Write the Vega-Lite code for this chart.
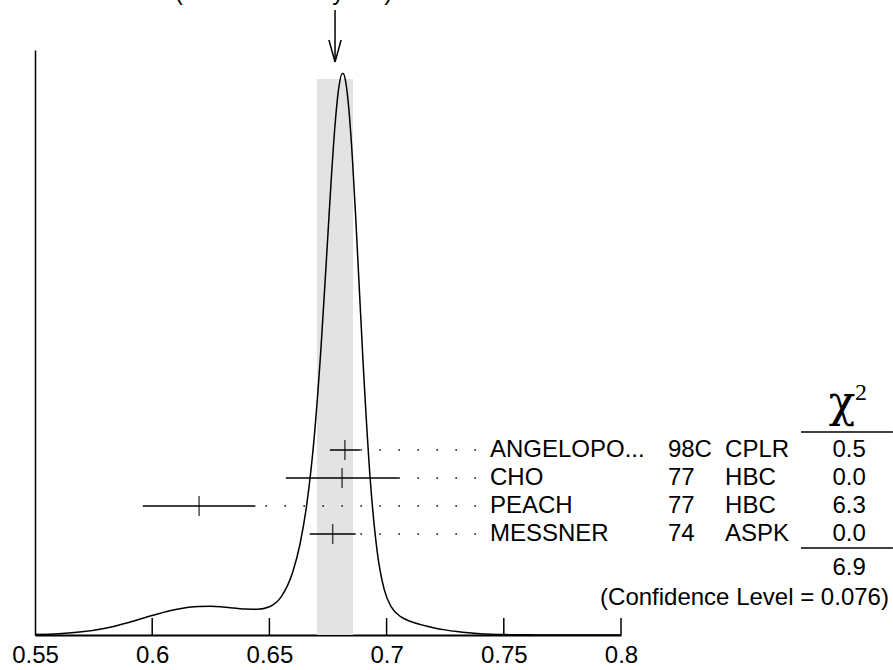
{
  "$schema": "https://vega.github.io/schema/vega-lite/v6.json",
  "width": 586,
  "height": 585,
  "autosize": {"type": "none"},
  "padding": {"left": 35, "top": 50, "right": 272, "bottom": 35},
  "background": "white",
  "config": {"view": {"stroke": null}, "font": "Liberation Sans", "text": {"color": "black"}},
  "datasets": {
    "curve": [
      {"x": 0.55, "d": 0.025}, {"x": 0.56, "d": 0.076}, {"x": 0.57, "d": 0.198}, {"x": 0.58, "d": 0.433},
      {"x": 0.59, "d": 0.796}, {"x": 0.60, "d": 1.233}, {"x": 0.61, "d": 1.614}, {"x": 0.62, "d": 1.805},
      {"x": 0.625, "d": 1.813}, {"x": 0.63, "d": 1.774}, {"x": 0.635, "d": 1.706}, {"x": 0.64, "d": 1.639},
      {"x": 0.645, "d": 1.623}, {"x": 0.65, "d": 1.783}, {"x": 0.655, "d": 2.407}, {"x": 0.66, "d": 3.996},
      {"x": 0.663, "d": 5.708}, {"x": 0.666, "d": 8.323}, {"x": 0.669, "d": 12.312}, {"x": 0.672, "d": 18.127},
      {"x": 0.675, "d": 25.43}, {"x": 0.6765, "d": 29.09}, {"x": 0.678, "d": 32.257}, {"x": 0.6795, "d": 34.51},
      {"x": 0.681, "d": 35.503}, {"x": 0.6815, "d": 35.51}, {"x": 0.6825, "d": 35.03}, {"x": 0.684, "d": 33.088},
      {"x": 0.6855, "d": 29.92}, {"x": 0.687, "d": 25.898}, {"x": 0.69, "d": 17.14}, {"x": 0.693, "d": 9.869},
      {"x": 0.696, "d": 5.262}, {"x": 0.699, "d": 2.873}, {"x": 0.702, "d": 1.775}, {"x": 0.706, "d": 1.162},
      {"x": 0.71, "d": 0.874}, {"x": 0.715, "d": 0.642}, {"x": 0.72, "d": 0.464}, {"x": 0.725, "d": 0.324},
      {"x": 0.73, "d": 0.216}, {"x": 0.735, "d": 0.138}, {"x": 0.74, "d": 0.085}, {"x": 0.75, "d": 0.028},
      {"x": 0.76, "d": 0.008}, {"x": 0.77, "d": 0.002}, {"x": 0.78, "d": 0.0004}, {"x": 0.8, "d": 0}
    ],
    "meas": [
      {"name": "ANGELOPO...", "year": "98C", "tech": "CPLR", "chi": "0.5", "value": 0.6822, "lo": 0.6758, "hi": 0.6886, "dotEnd": 0.7381, "pos": 1},
      {"name": "CHO", "year": "77", "tech": "HBC", "chi": "0.0", "value": 0.681, "lo": 0.657, "hi": 0.705, "dotEnd": 0.7381, "pos": 2},
      {"name": "PEACH", "year": "77", "tech": "HBC", "chi": "6.3", "value": 0.62, "lo": 0.596, "hi": 0.644, "dotEnd": 0.7381, "pos": 3},
      {"name": "MESSNER", "year": "74", "tech": "ASPK", "chi": "0.0", "value": 0.677, "lo": 0.6672, "hi": 0.6868, "dotEnd": 0.7381, "pos": 4}
    ],
    "cells": [
      {"t": "ANGELOPO...", "x": 0.7441, "pos": 1}, {"t": "CHO", "x": 0.7441, "pos": 2},
      {"t": "PEACH", "x": 0.7441, "pos": 3}, {"t": "MESSNER", "x": 0.7441, "pos": 4},
      {"t": "98C", "x": 0.82, "pos": 1}, {"t": "77", "x": 0.82, "pos": 2},
      {"t": "77", "x": 0.82, "pos": 3}, {"t": "74", "x": 0.82, "pos": 4},
      {"t": "CPLR", "x": 0.8444, "pos": 1}, {"t": "HBC", "x": 0.8444, "pos": 2},
      {"t": "HBC", "x": 0.8444, "pos": 3}, {"t": "ASPK", "x": 0.8444, "pos": 4}
    ],
    "chis": [
      {"t": "0.5", "x": 0.8973, "pos": 1}, {"t": "0.0", "x": 0.8973, "pos": 2},
      {"t": "6.3", "x": 0.8973, "pos": 3}, {"t": "0.0", "x": 0.8973, "pos": 4},
      {"t": "6.9", "x": 0.8973, "pos": 5.214}
    ]
  },
  "layer": [
    {
      "layer": [
        {
          "data": {"values": [{"lo": 0.6703, "hi": 0.6857, "top": 35.17, "base": 0}]},
          "mark": {"type": "rect", "fill": "#e3e3e3"},
          "encoding": {
            "x": {"field": "lo", "type": "quantitative", "scale": {"domain": [0.55, 0.8], "nice": false, "zero": false}},
            "x2": {"field": "hi"},
            "y": {"field": "top", "type": "quantitative", "scale": {"domain": [0, 37], "nice": false, "zero": false}},
            "y2": {"field": "base"}
          }
        },
        {
          "data": {"name": "curve"},
          "mark": {"type": "line", "color": "black", "strokeWidth": 1.5, "interpolate": "monotone"},
          "encoding": {
            "x": {"field": "x", "type": "quantitative",
              "scale": {"domain": [0.55, 0.8], "nice": false, "zero": false},
              "axis": {"values": [0.55, 0.6, 0.65, 0.7, 0.75, 0.8], "format": "~g", "labelFontSize": 24,
                "labelFont": "Liberation Sans", "labelColor": "black", "ticks": false, "domain": true,
                "domainColor": "black", "domainWidth": 2, "grid": false, "title": null, "labelPadding": 8,
                "labelFlush": false, "labelOverlap": false, "labelBound": false}},
            "y": {"field": "d", "type": "quantitative",
              "scale": {"domain": [0, 37], "nice": false, "zero": false},
              "axis": {"domain": true, "domainColor": "black", "domainWidth": 1.5, "labels": false, "ticks": false,
                "grid": false, "title": null}}
          }
        },
        {
          "data": {"values": [
            {"t": 0.6, "y0": 0, "y1": 1.075}, {"t": 0.65, "y0": 0, "y1": 1.075}, {"t": 0.7, "y0": 0, "y1": 1.075},
            {"t": 0.75, "y0": 0, "y1": 1.075}, {"t": 0.8, "y0": 0, "y1": 1.075}
          ]},
          "mark": {"type": "rule", "color": "black", "strokeWidth": 1.5},
          "encoding": {
            "x": {"field": "t", "type": "quantitative"},
            "y": {"field": "y0", "type": "quantitative"},
            "y2": {"field": "y1"}
          }
        },
        {
          "data": {"values": [
            {"xa": 0.678, "xb": 0.678, "ya": 39.53, "yb": 36.24},
            {"xa": 0.6754, "xb": 0.678, "ya": 37.63, "yb": 36.24},
            {"xa": 0.6806, "xb": 0.678, "ya": 37.63, "yb": 36.24}
          ]},
          "mark": {"type": "rule", "color": "black", "strokeWidth": 1.5},
          "encoding": {
            "x": {"field": "xa", "type": "quantitative"},
            "x2": {"field": "xb"},
            "y": {"field": "ya", "type": "quantitative"},
            "y2": {"field": "yb"}
          }
        },
        {
          "data": {"values": [{"label": "0.678±0.008 (Error scaled by 1.5)", "x": 0.55, "y": 40.15}]},
          "mark": {"type": "text", "align": "left", "baseline": "alphabetic", "fontSize": 24, "font": "Liberation Sans", "color": "black"},
          "encoding": {
            "x": {"field": "x", "type": "quantitative"},
            "y": {"field": "y", "type": "quantitative"},
            "text": {"field": "label"}
          }
        }
      ]
    },
    {
      "layer": [
        {
          "data": {"name": "meas"},
          "mark": {"type": "rule", "color": "black", "strokeWidth": 1.5, "strokeDash": [1.5, 17.5]},
          "encoding": {
            "x": {"field": "dotEnd", "type": "quantitative"},
            "x2": {"field": "hi"},
            "y": {"field": "pos", "type": "quantitative", "scale": {"domain": [-13.2857, 7.6071], "reverse": true, "nice": false, "zero": false}, "axis": null}
          }
        },
        {
          "data": {"name": "meas"},
          "mark": {"type": "rule", "color": "black", "strokeWidth": 1.5},
          "encoding": {
            "x": {"field": "lo", "type": "quantitative"},
            "x2": {"field": "hi"},
            "y": {"field": "pos", "type": "quantitative", "axis": null}
          }
        },
        {
          "data": {"name": "meas"},
          "mark": {"type": "tick", "orient": "vertical", "color": "black", "size": 20, "thickness": 1.5},
          "encoding": {
            "x": {"field": "value", "type": "quantitative"},
            "y": {"field": "pos", "type": "quantitative", "axis": null}
          }
        },
        {
          "data": {"name": "cells"},
          "mark": {"type": "text", "align": "left", "baseline": "middle", "fontSize": 24, "color": "black"},
          "encoding": {
            "x": {"field": "x", "type": "quantitative"},
            "y": {"field": "pos", "type": "quantitative", "axis": null},
            "text": {"field": "t"}
          }
        },
        {
          "data": {"name": "chis"},
          "mark": {"type": "text", "align": "center", "baseline": "middle", "fontSize": 24, "color": "black"},
          "encoding": {
            "x": {"field": "x", "type": "quantitative"},
            "y": {"field": "pos", "type": "quantitative", "axis": null},
            "text": {"field": "t"}
          }
        },
        {
          "data": {"values": [{"xa": 0.8768, "xb": 0.916, "pos": 0.357}, {"xa": 0.8768, "xb": 0.916, "pos": 4.5}]},
          "mark": {"type": "rule", "color": "black", "strokeWidth": 1.5},
          "encoding": {
            "x": {"field": "xa", "type": "quantitative"},
            "x2": {"field": "xb"},
            "y": {"field": "pos", "type": "quantitative", "axis": null}
          }
        },
        {
          "data": {"values": [{"label": "(Confidence Level = 0.076)", "x": 0.9143, "pos": 6.286}]},
          "mark": {"type": "text", "align": "right", "baseline": "middle", "fontSize": 24, "color": "black"},
          "encoding": {
            "x": {"field": "x", "type": "quantitative"},
            "y": {"field": "pos", "type": "quantitative", "axis": null},
            "text": {"field": "label"}
          }
        },
        {
          "data": {"values": [{"label": "χ", "x": 0.8943, "pos": -0.18}]},
          "mark": {"type": "text", "align": "center", "baseline": "alphabetic", "fontSize": 44, "font": "DejaVu Serif", "color": "black"},
          "encoding": {
            "x": {"field": "x", "type": "quantitative"},
            "y": {"field": "pos", "type": "quantitative", "axis": null},
            "text": {"field": "label"}
          }
        },
        {
          "data": {"values": [{"label": "2", "x": 0.9024, "pos": -0.786}]},
          "mark": {"type": "text", "align": "center", "baseline": "alphabetic", "fontSize": 24, "font": "Liberation Serif", "color": "black"},
          "encoding": {
            "x": {"field": "x", "type": "quantitative"},
            "y": {"field": "pos", "type": "quantitative", "axis": null},
            "text": {"field": "label"}
          }
        }
      ]
    }
  ],
  "resolve": {"scale": {"y": "independent"}}
}
